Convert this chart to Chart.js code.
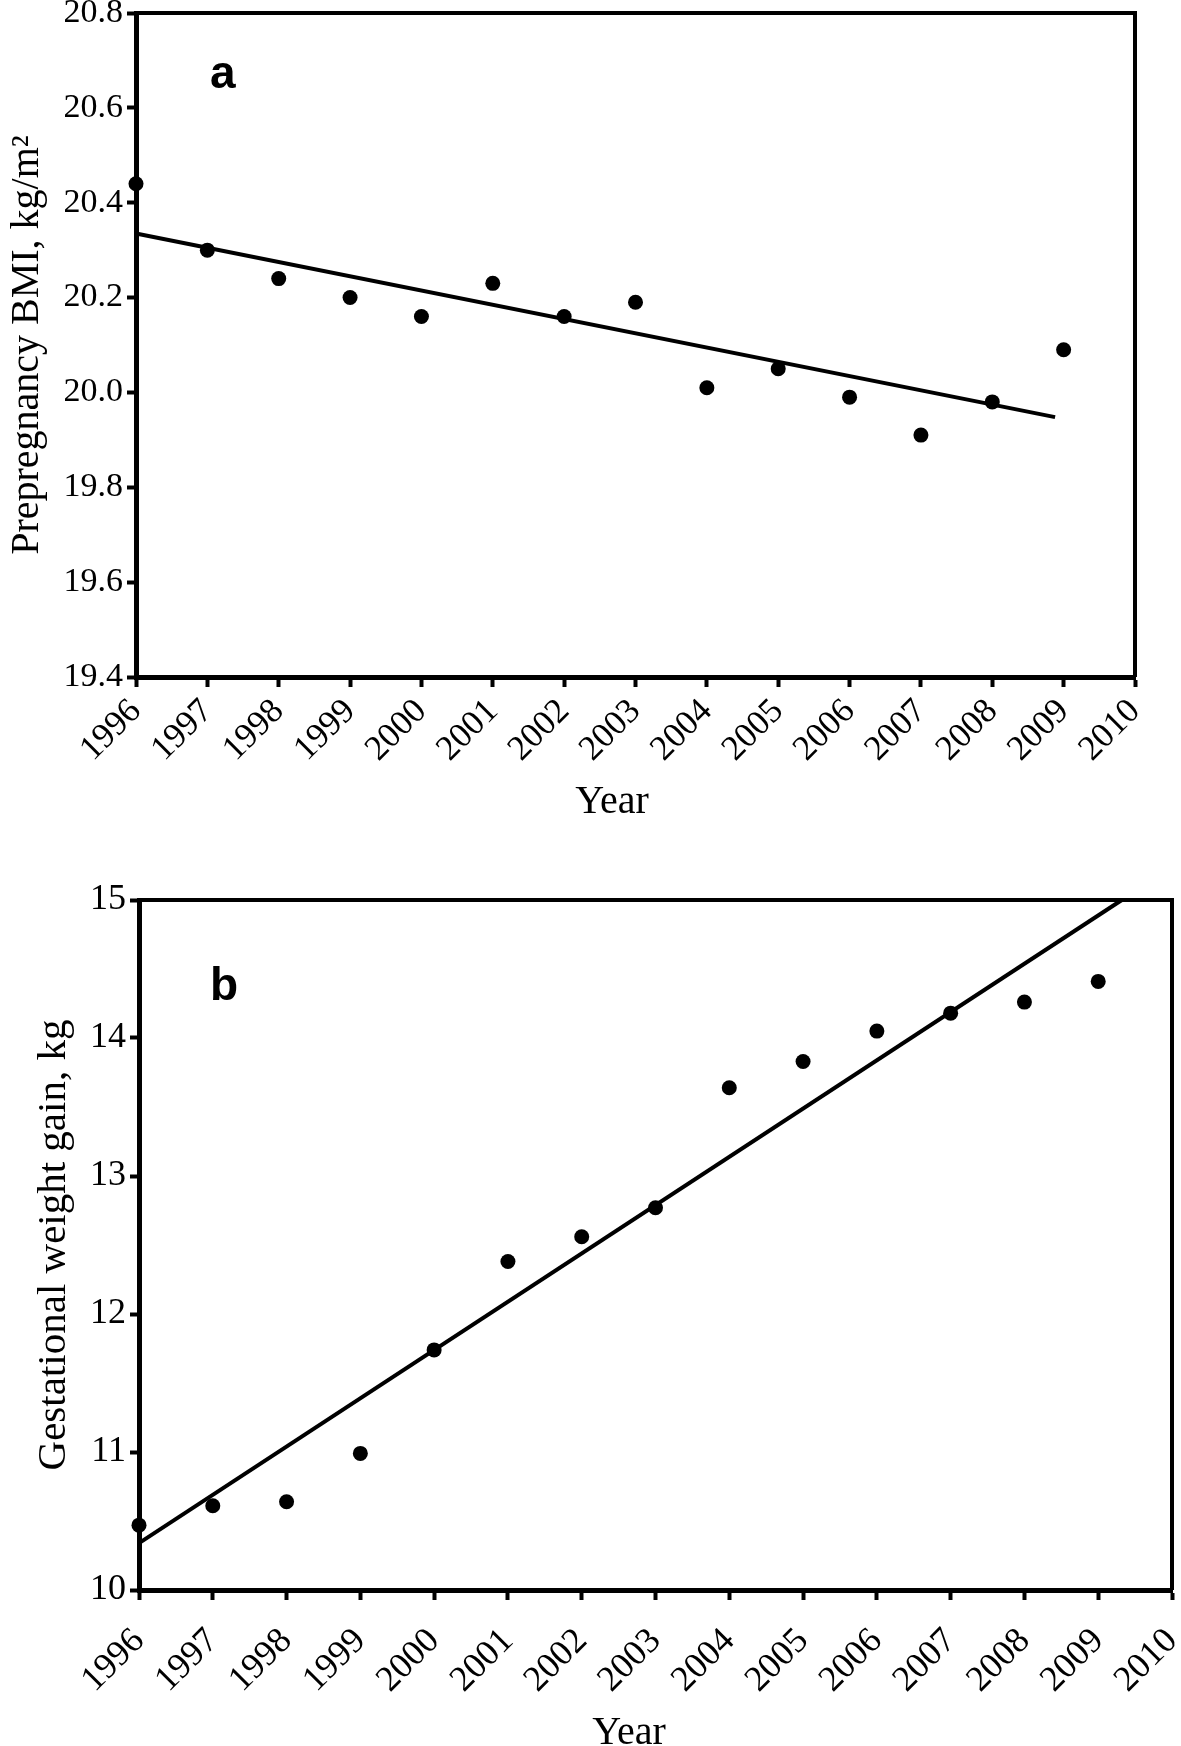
<!DOCTYPE html>
<html>
<head>
<meta charset="utf-8">
<script src="https://cdn.jsdelivr.net/npm/chart.js@4.4.1/dist/chart.umd.min.js"></script>
<style>
  html, body { margin: 0; padding: 0; background: #fff; overflow: hidden; }
  body { width: 1181px; height: 1746px; position: relative; }
  canvas { position: absolute; left: 0; }
  #ca { top: 0; }
  #cb { top: 860px; }
</style>
</head>
<body>
<canvas id="ca" width="1181" height="840"></canvas>
<canvas id="cb" width="1181" height="900"></canvas>
<script>
// years on the x axis
const years = [1996, 1997, 1998, 1999, 2000, 2001, 2002, 2003, 2004, 2005, 2006, 2007, 2008, 2009];

// panel a - prepregnancy BMI
const bmi = [20.44, 20.30, 20.24, 20.20, 20.16, 20.23, 20.16, 20.19, 20.01, 20.05, 19.99, 19.91, 19.98, 20.09];
const bmiFitX = [1996, 2008.88];
const bmiFitY = [20.335, 19.948];

// panel b - gestational weight gain
const gain = [10.47, 10.61, 10.64, 10.99, 11.74, 12.38, 12.56, 12.77, 13.64, 13.83, 14.05, 14.18, 14.26, 14.41];
const gainFitX = [1996, 2009.32];
const gainFitY = [10.34, 15.0];

const serif = "'Liberation Serif', 'Times New Roman', serif";

// frame on top and right, panel letter, x axis title
const framePlugin = {
  id: 'frame',
  afterDraw(chart, args, opts) {
    const { ctx, chartArea: a } = chart;
    ctx.save();
    ctx.strokeStyle = '#000';
    ctx.lineWidth = 4;
    ctx.beginPath();
    ctx.moveTo(a.left, a.top);
    ctx.lineTo(a.right, a.top);
    ctx.lineTo(a.right, a.bottom);
    ctx.stroke();
    ctx.fillStyle = '#000';
    ctx.textBaseline = 'alphabetic';
    ctx.font = "bold 46px 'Liberation Sans', Arial, sans-serif";
    ctx.fillText(opts.letter, opts.x, opts.y);
    ctx.textAlign = 'center';
    ctx.font = '40px ' + serif;
    ctx.fillText('Year', opts.titleX, opts.titleY);
    ctx.restore();
  }
};

function makeChart(id, cfg) {
  const pts = years.map((y, i) => ({ x: y, y: cfg.values[i] }));
  const fit = cfg.fitX.map((x, i) => ({ x: x, y: cfg.fitY[i] }));
  return new Chart(document.getElementById(id), {
    type: 'scatter',
    data: {
      datasets: [
        { data: pts, pointRadius: 7.5, pointBackgroundColor: '#000', pointBorderWidth: 0, clip: false },
        { data: fit, showLine: true, borderColor: '#000', borderWidth: 4, pointRadius: 0, clip: false }
      ]
    },
    options: {
      responsive: false,
      animation: false,
      devicePixelRatio: 1,
      layout: { padding: cfg.padding },
      plugins: {
        legend: { display: false },
        tooltip: { enabled: false },
        frame: cfg.letter
      },
      scales: {
        x: {
          type: 'linear',
          min: 1996, max: 2010,
          afterFit(s) { s.height = cfg.xHeight; s.paddingLeft = 0; s.paddingRight = 0; },
          border: { display: true, color: '#000', width: 5 },
          grid: { drawOnChartArea: false, drawTicks: true, tickLength: 10, tickWidth: 4, tickColor: '#000' },
          ticks: {
            stepSize: 1, autoSkip: false, minRotation: 45, maxRotation: 45,
            padding: cfg.xPad, color: '#000',
            font: { family: serif, size: cfg.xTickSize },
            callback: v => String(v)
          }
        },
        y: {
          min: cfg.ymin, max: cfg.ymax,
          afterFit(s) { s.width = cfg.yWidth; s.paddingTop = 0; s.paddingBottom = 0; },
          border: { display: true, color: '#000', width: 5 },
          grid: { drawOnChartArea: false, drawTicks: true, tickLength: 9, tickWidth: 4, tickColor: '#000' },
          ticks: {
            stepSize: cfg.step, padding: 4, color: '#000',
            font: { family: serif, size: cfg.yTickSize },
            callback: cfg.fmt
          },
          title: {
            display: true, text: cfg.ytitle, color: '#000',
            font: { family: serif, size: cfg.yTitleSize },
            padding: { top: cfg.yTitlePad, bottom: 0 }
          }
        }
      }
    },
    plugins: [framePlugin]
  });
}

makeChart('ca', {
  values: bmi, fitX: bmiFitX, fitY: bmiFitY,
  ymin: 19.4, ymax: 20.8, step: 0.2, fmt: v => v.toFixed(1),
  ytitle: 'Prepregnancy BMI, kg/m\u00B2',
  padding: { top: 13, right: 46, left: 0, bottom: 0 },
  xHeight: 163, yWidth: 136, xPad: 4, xTickSize: 35, yTickSize: 34,
  yTitlePad: 3, yTitleSize: 40,
  letter: { letter: 'a', x: 210, y: 88, titleX: 612, titleY: 813 }
});

makeChart('cb', {
  values: gain, fitX: gainFitX, fitY: gainFitY,
  ymin: 10, ymax: 15, step: 1, fmt: v => String(v),
  ytitle: 'Gestational weight gain, kg',
  padding: { top: 40, right: 9, left: 0, bottom: 0 },
  xHeight: 170, yWidth: 139, xPad: 20, xTickSize: 36, yTickSize: 36,
  yTitlePad: 30, yTitleSize: 41,
  letter: { letter: 'b', x: 210, y: 140, titleX: 629, titleY: 884 }
});
</script>
</body>
</html>
